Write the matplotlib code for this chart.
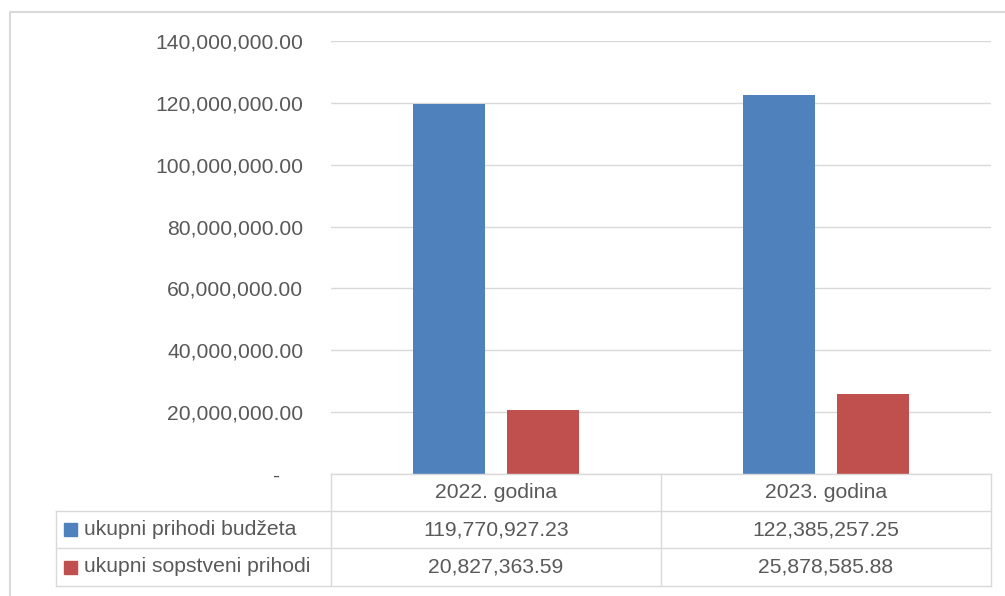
import numpy as np
import matplotlib.pyplot as plt
from matplotlib.patches import Rectangle
from matplotlib.lines import Line2D

plt.rcParams['font.family'] = ['Liberation Sans', 'DejaVu Sans']

categories = ["2022. godina", "2023. godina"]
series_names = ["ukupni prihodi budžeta", "ukupni sopstveni prihodi"]
budzet = [119770927.23, 122385257.25]
sopstveni = [20827363.59, 25878585.88]
yticks = [0, 20e6, 40e6, 60e6, 80e6, 100e6, 120e6, 140e6]

colors = ["#4f81bd", "#c0504d"]
txt = "#595959"
grid = "#d9d9d9"
fs = 15.2

W, H = 1005, 596
fig = plt.figure(figsize=(W / 100, H / 100), dpi=100)

def fx(x):
    return x / W

def fy(y):
    return 1 - y / H

# outer chart frame
fig.patches.append(Rectangle((fx(10), fy(H + 5)), fx(W + 5) - fx(10), fy(12) - fy(H + 5),
                             transform=fig.transFigure, fill=False, ec=grid, lw=1.5))

ax = fig.add_axes([fx(331), fy(474), fx(991) - fx(331), fy(41) - fy(474)])
x = np.arange(len(categories))
w = 0.22
off = 0.142
ax.bar(x - off, budzet, w, color=colors[0], zorder=3)
ax.bar(x + off, sopstveni, w, color=colors[1], zorder=3)
ax.set_xlim(-0.5, 1.5)
ax.set_ylim(0, 140e6)
ax.set_yticks(yticks)
# excel accounting format: zero shown as a dash
ax.set_yticklabels(["-    " if v == 0 else f"{v:,.2f}" for v in yticks])
ax.tick_params(axis='y', length=0, pad=20, labelsize=fs, labelcolor=txt)
ax.set_xticks([])
ax.yaxis.grid(True, color=grid, lw=1)
ax.set_axisbelow(True)
for s in ax.spines.values():
    s.set_visible(False)

# data table
rows_y = [474, 511, 548, 586]
cols_x = [56, 331, 661, 991]

def hline(y, x0, x1):
    fig.lines.append(Line2D([fx(x0), fx(x1)], [fy(y), fy(y)], transform=fig.transFigure, color=grid, lw=1))

def vline(x, y0, y1):
    fig.lines.append(Line2D([fx(x), fx(x)], [fy(y0), fy(y1)], transform=fig.transFigure, color=grid, lw=1))

hline(rows_y[0], cols_x[1], cols_x[3])
for y in rows_y[1:]:
    hline(y, cols_x[0], cols_x[3])
vline(cols_x[0], rows_y[1], rows_y[3])
for xx in cols_x[1:]:
    vline(xx, rows_y[0], rows_y[3])

for i, c in enumerate(categories):
    cx = (cols_x[i + 1] + cols_x[i + 2]) / 2
    fig.text(fx(cx), fy((rows_y[0] + rows_y[1]) / 2), c, ha='center', va='center', fontsize=fs, color=txt)
    for r, vals in enumerate([budzet, sopstveni]):
        cy = (rows_y[r + 1] + rows_y[r + 2]) / 2
        fig.text(fx(cx), fy(cy), f"{vals[i]:,.2f}", ha='center', va='center', fontsize=fs, color=txt)

for r, name in enumerate(series_names):
    cy = (rows_y[r + 1] + rows_y[r + 2]) / 2
    fig.patches.append(Rectangle((fx(64), fy(cy + 6.5)), fx(13), fy(0) - fy(13),
                                 transform=fig.transFigure, color=colors[r]))
    fig.text(fx(84), fy(cy), name, ha='left', va='center', fontsize=fs, color=txt)

fig.savefig("out.png", dpi=100)
